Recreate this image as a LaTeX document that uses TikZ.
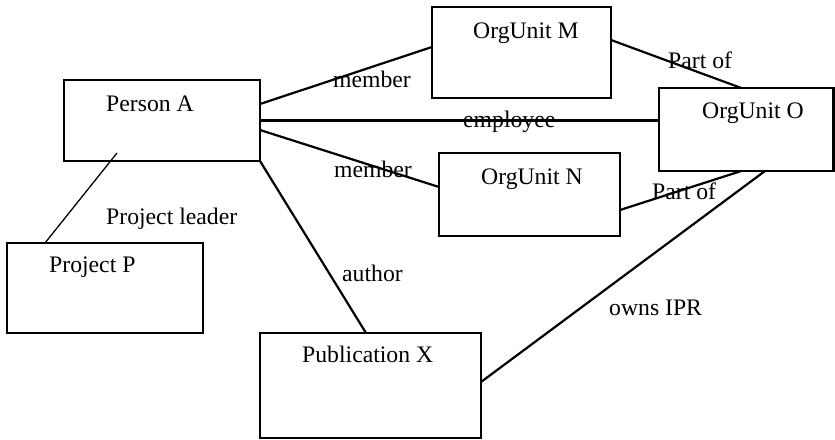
\documentclass[tikz,border=0pt]{standalone}
\usepackage{fontspec}
\setmainfont{Liberation Serif}
\usepackage{tikz}
\usetikzlibrary{arrows,calc,positioning}

\tikzset{
  box/.style={draw,line width=2.5pt,inner sep=0pt,outer sep=0pt,rectangle},
  txt/.style={anchor=base west,inner sep=0pt,font=\fontsize{23.7}{28}\selectfont},
  link/.style={line width=2.2pt},
}

\begin{document}
\begin{tikzpicture}[x=1pt,y=-1pt]
\useasboundingbox (0,0) rectangle (835,439);
\node[box,minimum width=196pt,minimum height=81pt] (pa) at (162,120.5) {};
\node[box,minimum width=179pt,minimum height=91pt] (om) at (521.5,52.5) {};
\node[box,minimum width=174.5pt,minimum height=83pt] (oo) at (746.25,129.5) {};
\node[box,minimum width=181pt,minimum height=83pt] (on) at (529.5,194.5) {};
\node[box,minimum width=196pt,minimum height=90pt] (pp) at (105,288) {};
\node[box,minimum width=221pt,minimum height=105pt] (px) at (370.5,385.5) {};
\node[txt] (pa-t) at (106,111) {Person A};
\node[txt] (om-t) at (473,38.5) {OrgUnit M};
\node[txt] (oo-t) at (702,118.5) {OrgUnit O};
\node[txt] (on-t) at (481,184) {OrgUnit N};
\node[txt] (pp-t) at (49,272.5) {Project P};
\node[txt] (px-t) at (302,362) {Publication X};
\draw[link] ([yshift=-24pt]pa.north east) -- ([yshift=5.5pt]om.west);
\draw[link] (pa.east) -- (pa.east -| oo.west);
\draw[link] ([yshift=-9.5pt]pa.east) -- ([yshift=7.5pt]on.west);
\draw[link] ([yshift=12.5pt]om.east) -- ([xshift=-5pt]oo.north);
\draw[link] ([yshift=-15.5pt]on.east) -- ([xshift=-5pt]oo.south);
\draw[link] ([yshift=3.5pt]px.east) -- ([xshift=18.75pt]oo.south);
\draw[link] (pa.south east) -- ([xshift=-4.5pt]px.north);
\coordinate (lead) at ([xshift=-45pt,yshift=8pt]pa.south);
\draw[line width=1.3pt] (lead) -- ([xshift=-60pt]pp.north);
\node[txt] (l-mm) at (333,87) {member};
\node[txt] (l-emp) at (463,127) {employee};
\node[txt] (l-mn) at (334,177) {member};
\node[txt] (l-pm) at (668,68.7) {Part of};
\node[txt] (l-pn) at (652,199) {Part of};
\node[txt] (l-ipr) at (609,315.5) {owns IPR};
\node[txt] (l-auth) at (342,281) {author};
\node[txt] (l-lead) at (106,224) {Project leader};
\end{tikzpicture}
\end{document}
